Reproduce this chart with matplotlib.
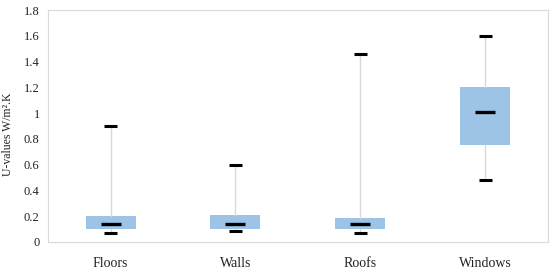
import matplotlib
matplotlib.use("Agg")
import matplotlib.pyplot as plt

categories = ["Floors", "Walls", "Roofs", "Windows"]
mins = [0.07, 0.085, 0.07, 0.48]
q1s = [0.10, 0.10, 0.10, 0.75]
medians = [0.14, 0.14, 0.14, 1.01]
q3s = [0.20, 0.21, 0.19, 1.20]
maxs = [0.90, 0.60, 1.46, 1.60]

plt.rcParams['font.family'] = ['Liberation Serif', 'DejaVu Serif']

fig = plt.figure(figsize=(5.5, 2.75), dpi=100)
ax = fig.add_axes([0.0873, 0.12, 0.909, 0.8436])

positions = list(range(1, len(categories) + 1))
stats = []
for c, lo, a, m, b, hi in zip(categories, mins, q1s, medians, q3s, maxs):
    stats.append(dict(label=c, whislo=lo, q1=a, med=m, q3=b, whishi=hi, fliers=[]))

ax.bxp(stats, positions=positions, widths=0.4, patch_artist=True, showfliers=False,
       boxprops=dict(facecolor='#9dc3e6', edgecolor='none', linewidth=0),
       whiskerprops=dict(color='#d9d9d9', linewidth=1),
       capprops=dict(color='black', linewidth=2.2, solid_capstyle='butt'),
       capwidths=0.1,
       medianprops=dict(visible=False))
ax.plot(positions, medians, ls='none', marker='_', ms=15, mew=2.4, color='black')

ax.set_xlim(0.5, len(categories) + 0.5)
ax.set_ylim(0, 1.8)
ax.set_yticks([0, 0.2, 0.4, 0.6, 0.8, 1.0, 1.2, 1.4, 1.6, 1.8])
ax.set_yticklabels(['0', '0.2', '0.4', '0.6', '0.8', '1', '1.2', '1.4', '1.6', '1.8'])
ax.set_xticks(positions)
ax.set_xticklabels(categories)
ax.tick_params(axis='both', length=0, labelsize=9, colors='#222222')
ax.tick_params(axis='x', pad=11, labelsize=10)
ax.tick_params(axis='y', pad=6)
for s in ax.spines.values():
    s.set_color('#d9d9d9')
    s.set_linewidth(0.8)
ax.set_ylabel('U-values W/m².K', fontsize=8.5, color='#222222')
ax.yaxis.set_label_coords(-0.068, 0.465)

fig.savefig('out.png', dpi=100)
